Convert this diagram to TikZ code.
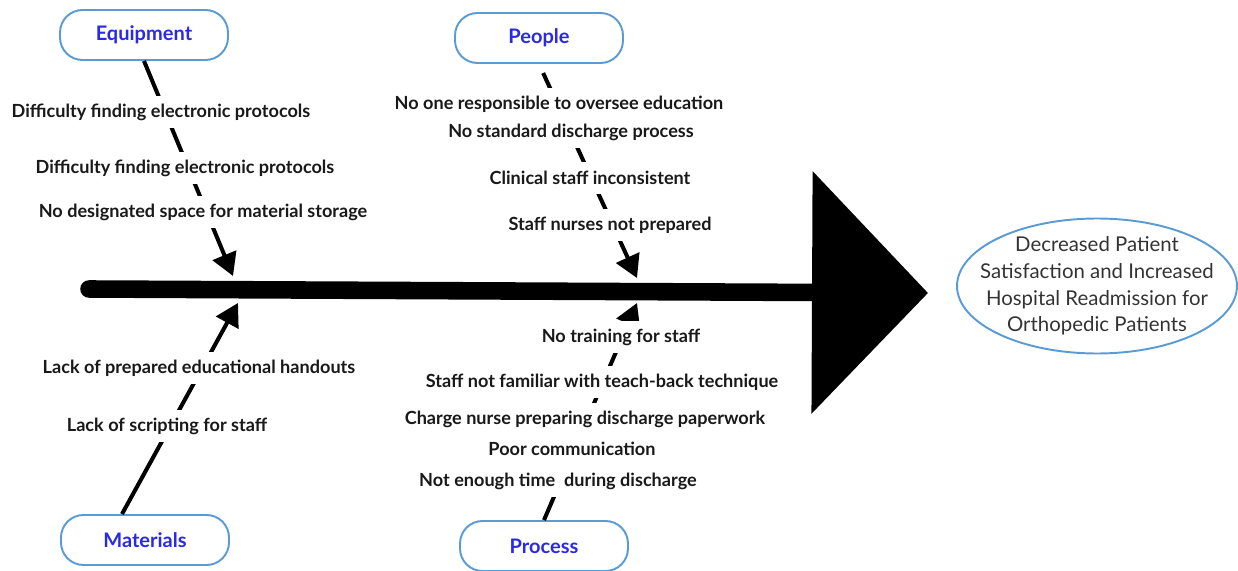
\documentclass[tikz,border=0pt]{standalone}
\usepackage{fontspec}
\setmainfont{Lato}
\usepackage{tikz}
\usetikzlibrary{positioning}
\usetikzlibrary{shapes.geometric,arrows.meta}
\definecolor{BoxBlue}{HTML}{5B9BD5}
\definecolor{CatBlue}{HTML}{2A2AE6}
\definecolor{TxtGray}{HTML}{333333}

\begin{document}
\begin{tikzpicture}[x=0.02cm,y=-0.02cm,
  cat/.style={draw=BoxBlue,line width=1.1pt,rounded corners=0.45cm,minimum width=3.36cm,minimum height=1cm,fill=white,text=CatBlue,font=\fontsize{11.4}{13}\selectfont\bfseries},
  cause/.style={fill=white,inner xsep=2pt,inner ysep=0pt,minimum height=0.64cm,text=black!90,font=\fontsize{10.3}{12}\selectfont\bfseries},
  bone/.style={line width=2.3pt,-{Triangle[length=0.45cm,width=0.5cm]}},
  spine/.style={line width=10pt,line cap=round,-{Triangle[length=2.32cm,width=4.78cm]}}]
\useasboundingbox (0,0) rectangle (1238,571);
\coordinate (tail) at (89,289);
\coordinate (head) at (928,293);
\coordinate (etip) at (233,276);
\coordinate (ptip) at (637,278);
\coordinate (mtip) at (238,303);
\coordinate (rtip) at (637,303);
\node[cat] (equip) at (144,35) {Equipment};
\node[cat] (people) at (539,38) {People};
\node[cat] (mater) at (145,540) {Materials};
\node[cat] (proc) at (544,546) {Process};
\node[draw=BoxBlue,ellipse,line width=1.1pt,minimum width=5.6cm,minimum height=2.7cm] (effect) at (1097,286) {};
\node[align=center,text=TxtGray,font=\fontsize{11.6}{15.2}\selectfont] (effecttext) at (effect) {Decreased Patient\\Satisfaction and Increased\\Hospital Readmission for\\Orthopedic Patients};
\draw[spine] (tail) -- (head);
\draw[bone] (equip.south) -- (etip);
\draw[bone,shorten <=0.2cm] (people.south) -- (ptip);
\draw[bone] ([xshift=-0.46cm]mater.north) -- (mtip);
\draw[bone] (proc.north) -- (rtip);
\node[cause] (e1) at (161,112) {Difficulty finding electronic protocols};
\node[cause] (e2) at (185,168) {Difficulty finding electronic protocols};
\node[cause] (e3) at (203,212) {No designated space for material storage};
\node[cause] (p1) at (559,104) {No one responsible to oversee education};
\node[cause] (p2) at (571,132) {No standard discharge process};
\node[cause] (p3) at (590,178) {Clinical staff inconsistent};
\node[cause] (p4) at (610,225) {Staff nurses not prepared};
\node[cause] (m1) at (199,368) {Lack of prepared educational handouts};
\node[cause] (m2) at (167,426) {Lack of scripting for staff};
\node[cause] (r1) at (621,337) {No training for staff};
\node[cause] (r2) at (602,382) {Staff not familiar with teach-back technique};
\node[cause] (r3) at (585,419) {Charge nurse preparing discharge paperwork};
\node[cause] (r4) at (572,449) {Poor communication};
\node[cause] (r5) at (558,481) {Not enough time\ \ during discharge};
\end{tikzpicture}
\end{document}
